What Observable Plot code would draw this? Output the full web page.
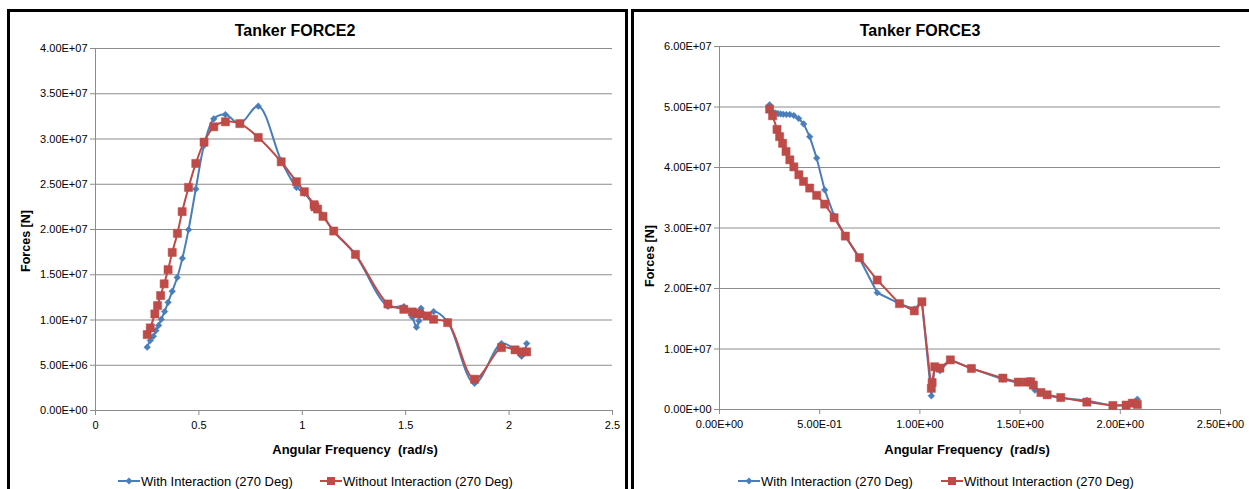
<!DOCTYPE html>
<html>
<head>
<meta charset="utf-8">
<script src="https://cdn.jsdelivr.net/npm/d3@7"></script>
<script src="https://cdn.jsdelivr.net/npm/@observablehq/plot@0.6"></script>
<style>
  html, body { margin: 0; padding: 0; background: #fff; overflow: hidden; }
  body { width: 1249px; height: 489px; position: relative; font-family: "Liberation Sans", Arial, sans-serif; }
  .abs { position: absolute; }
  .frame { position: absolute; border: 3px solid #000; box-sizing: border-box; pointer-events: none; }
  .title { font-weight: bold; font-size: 16px; color: #000; white-space: nowrap; transform: translate(-50%, -50%); }
  .xlab { font-weight: bold; font-size: 13px; color: #000; white-space: pre; transform: translate(-50%, -50%); }
  .ylab { font-weight: bold; font-size: 12.5px; color: #000; white-space: nowrap; transform: translate(-50%, -50%) rotate(-90deg); }
  .leg { font-size: 13px; color: #000; white-space: nowrap; display: flex; align-items: center; }
  .leg svg { display: block; }
</style>
</head>
<body>
<script>
// ---- Data (forces in N, frequency in rad/s) ----
const seriesNames = ["With Interaction (270 Deg)", "Without Interaction (270 Deg)"];
const seriesColors = ["#4A7EBB", "#BE4B48"];

const freqWith = [0.25, 0.265, 0.28, 0.292, 0.305, 0.318, 0.334, 0.351, 0.371, 0.395, 0.42, 0.45, 0.485, 0.525, 0.572, 0.628, 0.698, 0.787, 0.898, 0.972, 1.01, 1.057, 1.074, 1.1, 1.152, 1.257, 1.414, 1.491, 1.532, 1.552, 1.564, 1.574, 1.604, 1.635, 1.703, 1.833, 1.963, 2.029, 2.06, 2.085];
const force2With = [0.70e7, 0.773e7, 0.82e7, 0.883e7, 0.94e7, 1.008e7, 1.093e7, 1.195e7, 1.317e7, 1.47e7, 1.681e7, 1.998e7, 2.447e7, 2.93e7, 3.223e7, 3.27e7, 3.17e7, 3.363e7, 2.76e7, 2.465e7, 2.40e7, 2.27e7, 2.23e7, 2.16e7, 1.98e7, 1.72e7, 1.15e7, 1.148e7, 1.03e7, 0.92e7, 0.99e7, 1.13e7, 1.04e7, 1.093e7, 0.98e7, 0.30e7, 0.74e7, 0.67e7, 0.60e7, 0.74e7];
const force3With = [5.036e7, 4.92e7, 4.90e7, 4.89e7, 4.885e7, 4.88e7, 4.876e7, 4.876e7, 4.86e7, 4.81e7, 4.72e7, 4.51e7, 4.155e7, 3.63e7, 3.20e7, 2.866e7, 2.50e7, 1.93e7, 1.75e7, 1.66e7, 1.78e7, 0.226e7, 0.70e7, 0.64e7, 0.82e7, 0.68e7, 0.50e7, 0.44e7, 0.45e7, 0.48e7, 0.40e7, 0.32e7, 0.27e7, 0.23e7, 0.19e7, 0.15e7, 0.06e7, 0.07e7, 0.10e7, 0.17e7];

const freqWithout = [0.25, 0.265, 0.287, 0.30, 0.315, 0.332, 0.351, 0.371, 0.396, 0.419, 0.45, 0.485, 0.525, 0.572, 0.628, 0.698, 0.787, 0.898, 0.972, 1.01, 1.057, 1.061, 1.074, 1.1, 1.152, 1.257, 1.414, 1.491, 1.532, 1.553, 1.566, 1.604, 1.635, 1.703, 1.833, 1.963, 2.029, 2.06, 2.085];
const force2Without = [0.839e7, 0.913e7, 1.067e7, 1.159e7, 1.27e7, 1.40e7, 1.556e7, 1.747e7, 1.957e7, 2.197e7, 2.465e7, 2.73e7, 2.965e7, 3.135e7, 3.19e7, 3.17e7, 3.017e7, 2.748e7, 2.528e7, 2.417e7, 2.274e7, 2.25e7, 2.226e7, 2.145e7, 1.983e7, 1.725e7, 1.177e7, 1.118e7, 1.089e7, 1.075e7, 1.067e7, 1.045e7, 1.008e7, 0.971e7, 0.346e7, 0.695e7, 0.67e7, 0.648e7, 0.648e7];
const force3Without = [4.965e7, 4.855e7, 4.63e7, 4.51e7, 4.40e7, 4.265e7, 4.127e7, 4.01e7, 3.88e7, 3.77e7, 3.66e7, 3.54e7, 3.395e7, 3.17e7, 2.866e7, 2.51e7, 2.14e7, 1.75e7, 1.63e7, 1.78e7, 0.35e7, 0.446e7, 0.706e7, 0.684e7, 0.82e7, 0.678e7, 0.519e7, 0.453e7, 0.453e7, 0.458e7, 0.403e7, 0.281e7, 0.243e7, 0.198e7, 0.122e7, 0.066e7, 0.073e7, 0.105e7, 0.083e7];

const xTicks = [0, 0.5, 1, 1.5, 2, 2.5];
const yTicks2 = [0, 0.5e7, 1e7, 1.5e7, 2e7, 2.5e7, 3e7, 3.5e7, 4e7];
const yTicks3 = [0, 1e7, 2e7, 3e7, 4e7, 5e7, 6e7];
const titles = ["Tanker FORCE2", "Tanker FORCE3"];
const xLabel = "Angular Frequency  (rad/s)";
const yLabel = "Forces [N]";

// ---- helpers ----
function sci(v) {
  if (v === 0) return "0.00E+00";
  let e = Math.floor(Math.log10(Math.abs(v)) + 1e-9);
  let m = v / Math.pow(10, e);
  return m.toFixed(2) + "E" + (e < 0 ? "-" : "+") + String(Math.abs(e)).padStart(2, "0");
}
const zip = (xs, ys) => xs.map((x, i) => ({x, y: ys[i]}));

function chart({withData, withoutData, yTicks, yMax, xFmt, width, mLeft, mRight, mTop, mBottom, curveWith, curveWithout}) {
  const grid = "#8c8c8c";
  return Plot.plot({
    width, height: 489,
    marginLeft: mLeft, marginRight: mRight, marginTop: mTop, marginBottom: mBottom,
    style: {fontFamily: '"Liberation Sans", Arial, sans-serif', fontSize: "11px", color: "#000", background: "transparent", overflow: "visible"},
    x: {domain: [0, 2.5]},
    y: {domain: [0, yMax]},
    marks: [
      Plot.ruleY(yTicks.filter(d => d > 0), {stroke: grid, strokeWidth: 1}),
      Plot.ruleX([0], {stroke: grid, strokeWidth: 1}),
      Plot.ruleY([0], {stroke: grid, strokeWidth: 1}),
      Plot.axisY({ticks: yTicks, tickFormat: sci, tickSize: 5, tickPadding: 3, stroke: grid, fill: "#000", label: null}),
      Plot.axisX({ticks: xTicks, tickFormat: xFmt, tickSize: 5, tickPadding: 6, stroke: grid, fill: "#000", label: null}),
      Plot.line(withData, {x: "x", y: "y", stroke: seriesColors[0], strokeWidth: 2, curve: curveWith}),
      Plot.line(withoutData, {x: "x", y: "y", stroke: seriesColors[1], strokeWidth: 2, curve: curveWithout}),
      Plot.dot(withData, {x: "x", y: "y", symbol: "diamond2", r: 3, fill: seriesColors[0], stroke: seriesColors[0], strokeWidth: 0.5}),
      Plot.dot(withoutData, {x: "x", y: "y", symbol: "square", r: 4.6, fill: seriesColors[1], stroke: seriesColors[1], strokeWidth: 0.5})
    ]
  });
}

function place(el, left, top) {
  el.style.position = "absolute";
  el.style.left = left + "px";
  el.style.top = top + "px";
  document.body.appendChild(el);
}
function text(cls, str, x, y) {
  const d = document.createElement("div");
  d.className = "abs " + cls;
  d.textContent = str;
  d.style.left = x + "px";
  d.style.top = y + "px";
  document.body.appendChild(d);
}
function legendItem(idx, lineX, y) {
  const d = document.createElement("div");
  d.className = "abs leg";
  d.style.left = lineX + "px";
  d.style.top = (y - 8) + "px";
  d.style.height = "16px";
  const ns = "http://www.w3.org/2000/svg";
  const s = document.createElementNS(ns, "svg");
  s.setAttribute("width", 22); s.setAttribute("height", 16);
  const l = document.createElementNS(ns, "line");
  l.setAttribute("x1", 0); l.setAttribute("x2", 22); l.setAttribute("y1", 8); l.setAttribute("y2", 8);
  l.setAttribute("stroke", seriesColors[idx]); l.setAttribute("stroke-width", 2);
  s.appendChild(l);
  if (idx === 0) {
    const p = document.createElementNS(ns, "path");
    p.setAttribute("d", "M11,4.5L14.5,8L11,11.5L7.5,8Z");
    p.setAttribute("fill", seriesColors[idx]);
    s.appendChild(p);
  } else {
    const r = document.createElementNS(ns, "rect");
    r.setAttribute("x", 7); r.setAttribute("y", 4); r.setAttribute("width", 8); r.setAttribute("height", 8);
    r.setAttribute("fill", seriesColors[idx]);
    s.appendChild(r);
  }
  d.appendChild(s);
  const t = document.createElement("span");
  t.textContent = seriesNames[idx];
  t.style.marginLeft = "1px";
  d.appendChild(t);
  document.body.appendChild(d);
}

// ---- left chart ----
const left = chart({
  withData: zip(freqWith, force2With),
  withoutData: zip(freqWithout, force2Without),
  yTicks: yTicks2, yMax: 4e7,
  xFmt: d => String(d),
  width: 626, mLeft: 95, mRight: 14, mTop: 48, mBottom: 79,
  curveWith: "catmull-rom", curveWithout: "catmull-rom"
});
place(left, 0, 0);

// ---- right chart ----
const right = chart({
  withData: zip(freqWith, force3With),
  withoutData: zip(freqWithout, force3Without),
  yTicks: yTicks3, yMax: 6e7,
  xFmt: sci,
  width: 1249 - 632, mLeft: 719 - 632, mRight: 1249 - 1220, mTop: 46, mBottom: 489 - 409,
  curveWith: "linear", curveWithout: "linear"
});
place(right, 632, 0);

// frames
const f1 = document.createElement("div"); f1.className = "frame";
Object.assign(f1.style, {left: "7px", top: "9px", width: "621px", height: "500px"});
document.body.appendChild(f1);
const f2 = document.createElement("div"); f2.className = "frame";
Object.assign(f2.style, {left: "631px", top: "9px", width: "630px", height: "500px"});
document.body.appendChild(f2);

// titles and labels
text("title", titles[0], 295, 31);
text("title", titles[1], 920, 31);
text("xlab", xLabel, 355, 449);
text("xlab", xLabel, 967, 449);
text("ylab", yLabel, 26, 241);
text("ylab", yLabel, 650, 256);

// legends
legendItem(0, 118, 481);
legendItem(1, 320, 481);
legendItem(0, 738, 481);
legendItem(1, 941, 481);
</script>
</body>
</html>
